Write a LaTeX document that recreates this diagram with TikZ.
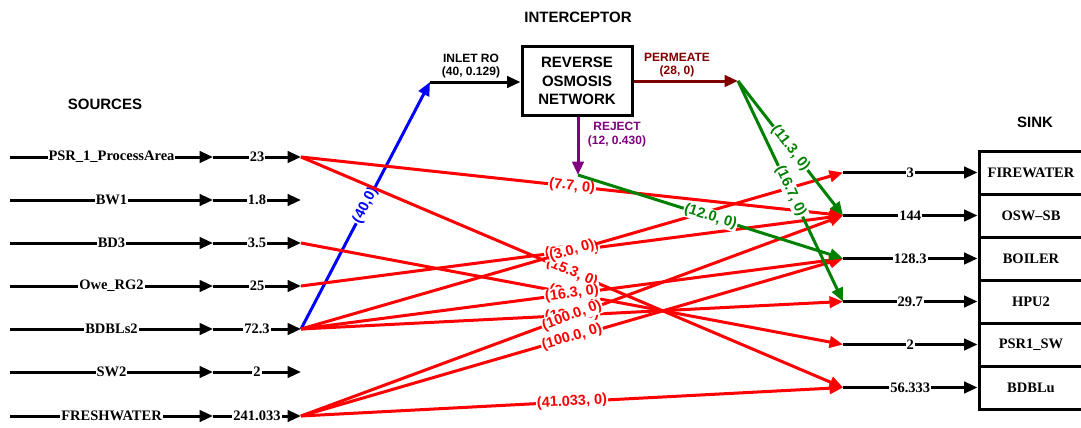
\documentclass[tikz,border=0pt]{standalone}
\usepackage{fontspec}
\setmainfont{Liberation Serif}
\setsansfont{Liberation Sans}
\usetikzlibrary{arrows.meta}

\definecolor{flowred}{RGB}{255,0,0}
\definecolor{flowblue}{RGB}{0,0,255}
\definecolor{flowgreen}{RGB}{0,128,0}
\definecolor{permred}{RGB}{128,0,0}
\definecolor{rejpurple}{RGB}{128,0,128}

\begin{document}
\begin{tikzpicture}[x=1pt,y=-1pt,
  tip/.style={-{Triangle[length=13.5pt,width=11.5pt]}},
  flow/.style={line width=3pt, tip},
  serifbold/.style={font=\fontsize{14.5}{16}\selectfont\bfseries},
  val/.style={serifbold, fill=white, inner sep=1pt},
  tag/.style={font=\sffamily\bfseries\fontsize{12}{13.5}\selectfont, align=center},
  head/.style={font=\sffamily\bfseries\fontsize{15}{17}\selectfont},
  slab/.style={sloped, fill=white, inner sep=1pt, font=\sffamily\bfseries\fontsize{14.5}{16}\selectfont},
  rlab/.style={slab, text=flowred},
  glab/.style={slab, text=flowgreen},
  blab/.style={slab, text=flowblue},
  robox/.style={draw, line width=3pt, minimum width=110pt, minimum height=68pt, inner sep=0pt,
    align=center, font=\sffamily\bfseries\fontsize{15}{18.5}\selectfont},
  sinkbox/.style={draw, line width=3pt, minimum width=104pt, minimum height=43pt, inner sep=0pt,
    serifbold},
]
\useasboundingbox (0,0) rectangle (1081,428);

% headings
\node[head] (hsrc) at (105,104) {SOURCES};
\node[head] (hint) at (578,17) {INTERCEPTOR};
\node[head] (hsnk) at (1035,122) {SINK};

% sources: name arrow, then flow value arrow
\foreach \nm/\v/\y [count=\i] in {PSR\_1\_ProcessArea/23/157, BW1/1.8/200, BD3/3.5/243,
    Owe\_RG2/25/286, BDBLs2/72.3/329, SW2/2/372, FRESHWATER/241.033/416} {
  \coordinate (sa\i) at (10,\y);
  \coordinate (sb\i) at (213,\y);
  \coordinate (s\i) at (301,\y);
  \draw[flow] (sa\i) -- node[val] (sn\i) {\nm} (sb\i);
  \draw[flow] (sb\i) -- node[val] (sv\i) {\v} (s\i);
}

% sinks: boxes with incoming demand arrows
\foreach \nm/\v [count=\j] in {FIREWATER/3, OSW\textendash SB/144, BOILER/128.3,
    HPU2/29.7, PSR1\_SW/2, BDBLu/56.333} {
  \pgfmathsetmacro\yy{172.5+43*(\j-1)}
  \node[sinkbox] (k\j) at (1031,\yy) {\nm};
  \coordinate (t\j) at (843,\yy);
  \draw[flow] (t\j) -- node[val] (tv\j) {\v} (k\j.west);
}

% reverse osmosis interceptor
\node[robox] (ro) at (577,81) {REVERSE\\OSMOSIS\\NETWORK};
\coordinate (ri) at (430,82);
\coordinate (pe) at (738,81);
\coordinate (rj) at (578,175);

\draw[flow, flowblue] (s5) -- node[blab] (lb) {(40,0)} (ri);
\draw[flow] (ri) -- (ri -| ro.west);
\node[tag] (tin) at (471,66) {INLET RO\\(40, 0.129)};

\draw[flow, permred] (ro.east |- pe) -- (pe);
\node[tag, text=permred] (tpe) at (677,65) {PERMEATE\\(28, 0)};

\draw[flow, rejpurple] (rj |- ro.south) -- (rj);
\node[tag, text=rejpurple] (trj) at (617,134.5) {REJECT\\(12, 0.430)};

% direct source-to-sink allocations
\draw[flow, flowred] (s1) -- node[rlab] {(15.3, 0)} (t6);
\draw[flow, flowred] (s4) -- node[rlab] {(25.0, 0)} (t2);
\draw[flow, flowred] (s5) -- node[rlab] {(3.0, 0)} (t1);
\draw[flow, flowred] (s3) -- node[rlab] {(2.0, 0)} (t5);
\draw[flow, flowred] (s5) -- node[rlab] {(16.3, 0)} (t3);
\draw[flow, flowred] (s5) -- node[rlab] {(13.0, 0)} (t4);
\draw[flow, flowred] (s7) -- node[rlab] {(100.0, 0)} (t2);
\draw[flow, flowred] (s7) -- node[rlab] {(100.0, 0)} (t3);
\draw[flow, flowred] (s7) -- node[rlab] {(41.033, 0)} (t6);
\draw[flow, flowred] (s1) -- node[rlab] {(7.7, 0)} (t2);

% regenerated streams from the interceptor
\draw[flow, flowgreen] (rj) -- node[glab] {(12.0, 0)} (t3);
\draw[flow, flowgreen] (pe) -- node[glab] {(11.3, 0)} (t2);
\draw[flow, flowgreen] (pe) -- node[glab] {(16.7, 0)} (t4);
\end{tikzpicture}
\end{document}
